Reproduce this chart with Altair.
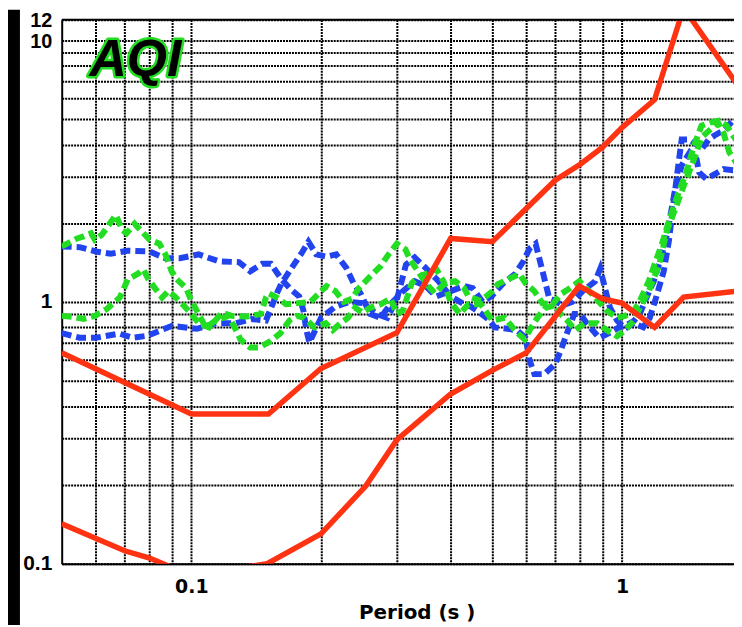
import altair as alt
import pandas as pd

# ---------------- data ----------------
RED_UP_T = [0.05, 0.1, 0.151, 0.2, 0.3, 0.4, 0.5, 0.7, 0.8, 0.9, 1.0, 1.19, 1.39, 1.86]
RED_UP_A = [0.64, 0.373, 0.373, 0.557, 0.763, 1.75, 1.70, 2.92, 3.36, 3.9, 4.64, 5.93, 13.3, 6.7]

RED_LO_T = [0.05, 0.07, 0.08, 0.10, 0.15, 0.2, 0.254, 0.3, 0.4, 0.5, 0.6, 0.796, 0.9, 1.0, 1.19, 1.39, 1.86]
RED_LO_A = [0.142, 0.112, 0.105, 0.09, 0.10, 0.13, 0.198, 0.297, 0.445, 0.548, 0.64, 1.15, 1.03, 0.99, 0.80, 1.045, 1.10]

B1_T = [0.050, 0.055, 0.060, 0.065, 0.071, 0.080, 0.087, 0.094, 0.104, 0.116, 0.129, 0.137, 0.146, 0.153,
        0.162, 0.170, 0.178, 0.182, 0.185, 0.188, 0.200, 0.216, 0.232, 0.250, 0.270, 0.285, 0.300, 0.315,
        0.330, 0.350, 0.375, 0.400, 0.430, 0.446, 0.462, 0.493, 0.506, 0.543, 0.572, 0.597, 0.610, 0.626,
        0.660, 0.700, 0.720, 0.745, 0.775, 0.800, 0.830, 0.885, 0.933, 0.984, 1.016, 1.066, 1.100, 1.140,
        1.185, 1.224, 1.257, 1.284, 1.325, 1.376, 1.436, 1.490, 1.510, 1.570, 1.630, 1.720, 1.810, 1.860]
B1_A = [1.63, 1.62, 1.56, 1.53, 1.57, 1.56, 1.47, 1.47, 1.52, 1.43, 1.42, 1.31, 1.40, 1.40,
        1.22, 1.12, 1.05, 0.93, 0.78, 0.70, 0.87, 0.96, 1.00, 0.99, 0.90, 0.87, 1.02, 1.39,
        1.48, 1.35, 1.20, 1.05, 0.98, 0.96, 0.925, 0.85, 0.80, 0.79, 0.776, 0.73, 0.60, 0.53,
        0.53, 0.58, 0.65, 0.76, 0.90, 0.90, 0.825, 0.73, 0.76, 0.80, 0.81, 0.847, 0.90, 1.04,
        1.20, 1.43, 1.66, 1.97, 2.63, 3.33, 3.73, 3.51, 3.13, 2.95, 3.06, 3.22, 3.19, 3.19]

B2_T = [0.050, 0.055, 0.060, 0.068, 0.073, 0.079, 0.090, 0.103, 0.114, 0.127, 0.138, 0.149, 0.154, 0.158,
        0.162, 0.173, 0.180, 0.187, 0.195, 0.206, 0.217, 0.229, 0.238, 0.247, 0.260, 0.275, 0.290, 0.310,
        0.330, 0.350, 0.370, 0.400, 0.430, 0.450, 0.475, 0.500, 0.530, 0.565, 0.590, 0.610, 0.630, 0.654,
        0.678, 0.700, 0.727, 0.766, 0.810, 0.866, 0.890, 0.914, 0.938, 0.974, 1.016, 1.066, 1.120, 1.160,
        1.200, 1.250, 1.284, 1.318, 1.354, 1.376, 1.436, 1.490, 1.530, 1.590, 1.640, 1.720, 1.810, 1.860]
B2_A = [0.76, 0.73, 0.73, 0.757, 0.73, 0.743, 0.81, 0.79, 0.83, 0.83, 0.86, 0.85, 0.97, 1.08,
        1.18, 1.39, 1.53, 1.70, 1.52, 1.49, 1.52, 1.35, 1.18, 1.08, 0.90, 0.87, 0.98, 1.10,
        1.20, 1.15, 1.05, 1.10, 1.15, 1.13, 1.00, 1.06, 1.18, 1.28, 1.43, 1.60, 1.67, 1.31,
        1.03, 1.01, 0.97, 1.00, 1.10, 1.20, 1.34, 1.12, 0.95, 0.85, 0.79, 0.83, 0.80, 0.87,
        1.04, 1.31, 1.70, 2.41, 3.42, 4.18, 4.18, 4.00, 3.83, 4.18, 4.33, 4.52, 4.93, 5.06]

G1_T = [0.050, 0.0543, 0.0562, 0.0585, 0.0597, 0.062, 0.0646, 0.0668, 0.069, 0.0707, 0.0738, 0.076, 0.080,
        0.0843, 0.0871, 0.090, 0.0925, 0.0973, 0.100, 0.104, 0.108, 0.114, 0.122, 0.126, 0.130, 0.137,
        0.144, 0.153, 0.161, 0.169, 0.176, 0.183, 0.193, 0.205, 0.213, 0.222, 0.231, 0.240, 0.250, 0.260,
        0.275, 0.290, 0.300, 0.310, 0.325, 0.335, 0.350, 0.370, 0.385, 0.400, 0.420, 0.440, 0.470, 0.500,
        0.534, 0.572, 0.594, 0.610, 0.636, 0.664, 0.700, 0.720, 0.746, 0.780, 0.817, 0.876, 0.923, 0.974,
        1.016, 1.066, 1.100, 1.154, 1.220, 1.270, 1.340, 1.410, 1.470, 1.530, 1.600, 1.670, 1.720, 1.775,
        1.840, 1.860]
G1_A = [1.63, 1.75, 1.78, 1.83, 1.73, 1.81, 1.99, 2.15, 1.89, 1.83, 1.99, 1.89, 1.73,
        1.67, 1.52, 1.31, 1.22, 1.13, 1.01, 0.90, 0.80, 0.85, 0.885, 0.80, 0.72, 0.67,
        0.67, 0.71, 0.76, 0.85, 0.885, 0.87, 0.80, 0.83, 0.78, 0.83, 0.87, 0.95, 0.91, 0.95,
        0.98, 1.03, 0.90, 0.93, 1.18, 1.24, 1.28, 1.34, 1.20, 1.00, 0.90, 0.98, 0.98, 0.85,
        0.87, 0.76, 0.72, 0.78, 0.87, 0.95, 0.97, 0.90, 0.85, 0.78, 0.83, 0.83, 0.78, 0.74,
        0.78, 0.85, 0.95, 1.10, 1.39, 1.86, 2.35, 2.95, 3.51, 4.25, 4.55, 4.85, 4.44, 3.73,
        3.42, 3.36]

G2_T = [0.050, 0.0533, 0.0562, 0.0597, 0.0636, 0.0682, 0.0712, 0.075, 0.0774, 0.0793, 0.0823, 0.0855,
        0.0884, 0.0915, 0.0954, 0.100, 0.104, 0.110, 0.118, 0.124, 0.135, 0.145, 0.149, 0.151, 0.158,
        0.166, 0.177, 0.189, 0.198, 0.206, 0.216, 0.226, 0.236, 0.245, 0.260, 0.275, 0.287, 0.300, 0.314,
        0.322, 0.336, 0.355, 0.368, 0.388, 0.410, 0.430, 0.440, 0.470, 0.500, 0.515, 0.543, 0.578, 0.597,
        0.626, 0.653, 0.690, 0.720, 0.758, 0.796, 0.830, 0.862, 0.890, 0.923, 0.974, 1.016, 1.066, 1.100,
        1.154, 1.190, 1.237, 1.290, 1.354, 1.410, 1.470, 1.530, 1.600, 1.680, 1.750, 1.810, 1.860]
G2_A = [0.885, 0.877, 0.862, 0.885, 0.94, 1.04, 1.22, 1.28, 1.33, 1.23, 1.13, 1.04,
        1.10, 1.05, 0.98, 0.90, 0.83, 0.80, 0.91, 0.885, 0.88, 0.90, 1.04, 1.08, 1.04,
        0.98, 0.99, 1.00, 1.08, 1.15, 1.10, 1.00, 1.03, 1.13, 1.25, 1.37, 1.52, 1.67, 1.59,
        1.45, 1.31, 1.15, 1.08, 1.18, 1.20, 1.13, 1.05, 1.01, 1.10, 1.17, 1.22, 1.28, 1.18,
        1.10, 0.99, 0.98, 1.07, 1.13, 1.20, 1.12, 1.05, 0.99, 0.925, 0.87, 0.885, 0.925, 1.01,
        1.20, 1.39, 1.66, 2.08, 2.63, 3.13, 3.97, 4.72, 4.85, 4.93, 4.72, 4.33, 4.07]

X_GRID = [0.06, 0.07, 0.08, 0.09, 0.1, 0.2, 0.3, 0.4, 0.5, 0.6, 0.7, 0.8, 0.9, 1.0]
Y_GRID = [0.1, 0.2, 0.3, 0.4, 0.5, 0.6, 0.7, 0.8, 0.9, 1, 2, 3, 4, 5, 6, 7, 8, 9, 10, 12]

LABEL_TEXT = ["AQI"]
LABEL_T = [0.058]
LABEL_A = [7.3]


def sdf(name, t, a):
    return pd.DataFrame({"series": name, "T": t, "A": a})


blue_df = pd.concat([sdf("B1", B1_T, B1_A), sdf("B2", B2_T, B2_A)], ignore_index=True)
green_df = pd.concat([sdf("G1", G1_T, G1_A), sdf("G2", G2_T, G2_A)], ignore_index=True)
red_df = pd.concat([sdf("R1", RED_UP_T, RED_UP_A), sdf("R2", RED_LO_T, RED_LO_A)], ignore_index=True)
label_df = pd.DataFrame({"text": LABEL_TEXT, "T": LABEL_T, "A": LABEL_A})

W, H = 676, 547

x_enc = alt.X(
    "T:Q",
    scale=alt.Scale(type="log", domain=[0.05, 1.82], nice=False),
    axis=alt.Axis(
        values=X_GRID,
        labelExpr="datum.value == 0.1 ? '0.1' : datum.value == 1 ? '1' : ''",
        title="Period (s )",
        grid=True, gridColor="black", gridDash=[2, 1], gridWidth=2, gridOpacity=1,
        ticks=False, domain=True, domainColor="black", domainWidth=2,
        labelFont="DejaVu Sans", labelFontWeight="bold", labelFontSize=19, labelColor="black",
        labelPadding=14, labelOverlap=False, labelFlush=False,
        titleFont="DejaVu Sans", titleFontWeight="bold", titleFontSize=20, titleColor="black",
        titleX=357, titleY=55, titleAlign="center", titleBaseline="alphabetic",
    ),
)
y_enc = alt.Y(
    "A:Q",
    scale=alt.Scale(type="log", domain=[0.1, 12], nice=False),
    axis=alt.Axis(
        values=Y_GRID,
        labelExpr="datum.value == 0.1 ? '0.1' : datum.value == 1 ? '1' : datum.value == 10 ? '10' : datum.value == 12 ? '12' : ''",
        title=None,
        grid=True, gridColor="black", gridDash=[2, 1], gridWidth=2, gridOpacity=1,
        ticks=False, domain=True, domainColor="black", domainWidth=2,
        labelFont="Liberation Sans", labelFontWeight="bold",
        labelFontSize={"condition": {"test": "datum.value >= 10", "value": 20}, "value": 21},
        labelOffset={"condition": {"test": "datum.value >= 10", "value": 1}, "value": 0},
        labelColor="black", labelPadding=10, labelOverlap=False, labelFlush=False,
    ),
)

blue = alt.Chart(blue_df).mark_line(
    color="#2244ee", strokeWidth=6, strokeDash=[10, 5], clip=True
).encode(x=x_enc, y=y_enc, detail="series:N")

green = alt.Chart(green_df).mark_line(
    color="#22dd22", strokeWidth=6, strokeDash=[10, 5], clip=True
).encode(x=x_enc, y=y_enc, detail="series:N")

red = alt.Chart(red_df).mark_line(
    color="#ff3311", strokeWidth=5.5, clip=True
).encode(x=x_enc, y=y_enc, detail="series:N")

txt_glow = alt.Chart(label_df).mark_text(
    font="Liberation Sans", fontSize=52, fontStyle="italic", fontWeight="bold",
    align="left", baseline="alphabetic", color="#22dd22", stroke="#22dd22",
    strokeWidth=5, strokeJoin="round",
).encode(x=x_enc, y=y_enc, text="text:N")

txt = alt.Chart(label_df).mark_text(
    font="Liberation Sans", fontSize=52, fontStyle="italic", fontWeight="bold",
    align="left", baseline="alphabetic", color="black",
).encode(x=x_enc, y=y_enc, text="text:N")

deco = pd.DataFrame({"k": [0]})
top_border = alt.Chart(deco).mark_rule(color="black", strokeWidth=2).encode(
    x=alt.value(0), x2=alt.value(W), y=alt.value(0)
)
left_strip = alt.Chart(deco).mark_rect(color="black").encode(
    x=alt.value(-54), x2=alt.value(-42), y=alt.value(-10), y2=alt.value(H + 62)
)

chart = alt.layer(blue, green, red, txt_glow, txt, top_border, left_strip).properties(
    width=W,
    height=H,
    autosize=alt.AutoSizeParams(type="none"),
    padding={"left": 54, "top": 10, "right": 0, "bottom": 60},
    background="white",
).configure_view(strokeWidth=0)

chart.save("out.html", embed_options={"renderer": "svg", "actions": False})
